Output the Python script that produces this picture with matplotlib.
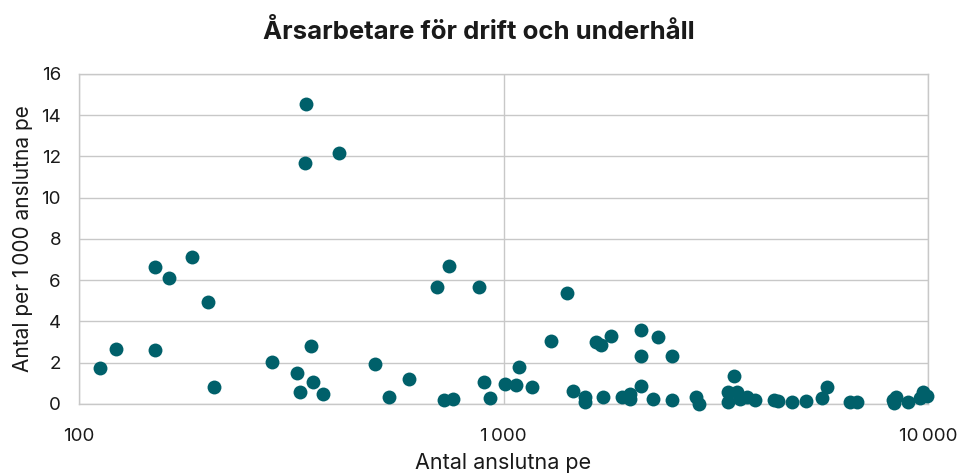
import matplotlib.pyplot as plt
import matplotlib.ticker as mticker

# Antal anslutna pe (x) och årsarbetare per 1 000 anslutna pe (y)
anslutna_pe = [112, 122, 151, 151, 163, 185, 201, 208, 285, 327, 332, 343, 341,
               351, 355, 375, 409, 499, 537, 599, 697, 744, 724, 761, 877, 898,
               927, 1009, 1069, 1086, 1167, 1294, 1414, 1460, 1559, 1559, 1649,
               1694, 1713, 1790, 1898, 1986, 1986, 2112, 2105, 2112, 2255, 2307,
               2489, 2492, 2838, 2881, 3376, 3376, 3493, 3542, 3607, 3740, 3919,
               4336, 4424, 4783, 5161, 5639, 5772, 6535, 6786, 8253, 8388, 8333,
               8993, 9579, 9752, 9929]
per_1000_pe = [1.76, 2.67, 6.63, 2.62, 6.12, 7.14, 4.96, 0.82, 2.05, 1.49, 0.57,
               14.56, 11.7, 2.81, 1.08, 0.5, 12.19, 1.95, 0.32, 1.21, 5.67, 6.68,
               0.18, 0.23, 5.66, 1.07, 0.27, 0.95, 0.91, 1.79, 0.81, 3.05, 5.40,
               0.65, 0.36, 0.08, 2.99, 2.88, 0.32, 3.31, 0.35, 0.47, 0.23, 3.59,
               2.33, 0.89, 0.26, 3.26, 2.34, 0.18, 0.36, 0.02, 0.57, 0.1, 1.37,
               0.57, 0.26, 0.36, 0.19, 0.19, 0.16, 0.10, 0.13, 0.31, 0.82, 0.11,
               0.10, 0.18, 0.32, 0.03, 0.08, 0.27, 0.6, 0.37]

x_ticks = [100, 1000, 10000]
x_labels = ['100', '1\u2009000', '10\u2009000']
y_ticks = list(range(0, 17, 2))

plt.rcParams['font.family'] = ['Inter', 'DejaVu Sans']

fig = plt.figure(figsize=(9.57, 4.74), dpi=100)
ax = fig.add_axes([0.0826, 0.1477, 0.8871, 0.6962])

ax.scatter(anslutna_pe, per_1000_pe, s=100, color='#00606A', zorder=3,
           linewidths=0, clip_on=False)

ax.set_xscale('log')
ax.set_xlim(100, 10000)
ax.set_ylim(0, 16)
ax.set_xticks(x_ticks)
ax.set_xticklabels(x_labels)
ax.xaxis.set_minor_locator(mticker.NullLocator())
ax.set_yticks(y_ticks)

ax.grid(True, color='#c8c8c8', linewidth=1)
ax.set_axisbelow(True)
for s in ax.spines.values():
    s.set_color('#c8c8c8')
    s.set_linewidth(1)
ax.tick_params(length=0, labelsize=13.5, colors='#1a1a1a')
ax.tick_params(axis='x', pad=17)
ax.tick_params(axis='y', pad=13)

ax.set_xlabel('Antal anslutna pe', fontsize=15.5, color='#1a1a1a', labelpad=6)
ax.set_ylabel('Antal per 1\u2009000 anslutna pe', fontsize=15, color='#1a1a1a',
              labelpad=6)
fig.suptitle('Årsarbetare för drift och underhåll', fontsize=18.5,
             fontweight='bold', y=0.96, color='#1a1a1a')

fig.savefig('out.png', dpi=100)
